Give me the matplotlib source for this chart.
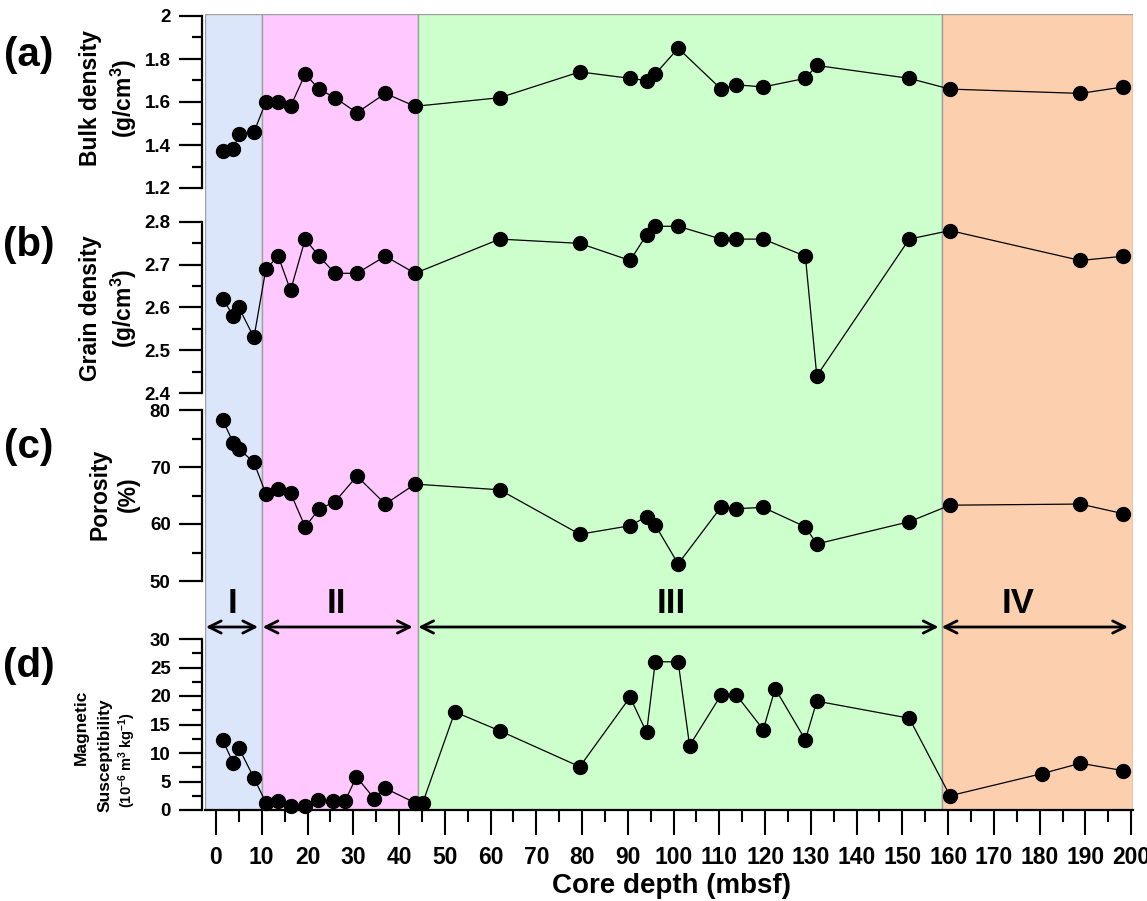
import matplotlib
matplotlib.use('Agg')
import matplotlib.pyplot as plt
from matplotlib.ticker import FuncFormatter, FixedLocator

plt.rcParams['font.family'] = ['Liberation Sans', 'DejaVu Sans']
plt.rcParams['font.weight'] = 'bold'
plt.rcParams['mathtext.fontset'] = 'custom'
plt.rcParams['mathtext.rm'] = 'Liberation Sans:bold'
plt.rcParams['mathtext.it'] = 'Liberation Sans:bold'
plt.rcParams['mathtext.bf'] = 'Liberation Sans:bold'
plt.rcParams['mathtext.default'] = 'rm'

# ---------------- data ----------------
depth_abc = [1.5, 3.8, 5.0, 8.3, 10.9, 13.6, 16.3, 19.5, 22.5, 26.0, 30.8, 37.0, 43.5,
             62.0, 79.5, 90.5, 94.1, 96.0, 101.0, 110.4, 113.7, 119.6, 128.8, 131.3,
             151.5, 160.4, 188.9, 198.3]
bulk_density = [1.37, 1.38, 1.45, 1.46, 1.60, 1.60, 1.58, 1.73, 1.66, 1.62, 1.55, 1.64, 1.58,
                1.62, 1.74, 1.71, 1.70, 1.73, 1.85, 1.66, 1.68, 1.67, 1.71, 1.77,
                1.71, 1.66, 1.64, 1.67]
grain_density = [2.62, 2.58, 2.60, 2.53, 2.69, 2.72, 2.64, 2.76, 2.72, 2.68, 2.68, 2.72, 2.68,
                 2.76, 2.75, 2.71, 2.77, 2.79, 2.79, 2.76, 2.76, 2.76, 2.72, 2.44,
                 2.76, 2.78, 2.71, 2.72]
porosity = [78.2, 74.2, 73.2, 70.8, 65.3, 66.1, 65.4, 59.5, 62.6, 63.9, 68.4, 63.5, 67.0,
            66.0, 58.2, 59.7, 61.3, 59.8, 53.0, 63.0, 62.7, 62.9, 59.5, 56.5,
            60.4, 63.3, 63.5, 61.8]
depth_ms = [1.5, 3.8, 5.0, 8.3, 10.9, 13.6, 16.3, 19.5, 22.3, 25.6, 28.2, 30.7, 34.6, 37.0,
            43.4, 45.2, 52.2, 62.0, 79.5, 90.5, 94.1, 96.0, 101.0, 103.5, 110.4, 113.7,
            119.6, 122.2, 128.8, 131.3, 151.5, 160.4, 180.6, 188.9, 198.3]
mag_sus = [12.2, 8.2, 10.9, 5.6, 1.3, 1.6, 0.7, 0.7, 1.7, 1.6, 1.6, 5.8, 2.0, 3.8,
           1.3, 1.3, 17.2, 13.9, 7.6, 19.8, 13.6, 26.0, 26.0, 11.3, 20.2, 20.2,
           14.1, 21.3, 12.3, 19.1, 16.1, 2.5, 6.4, 8.2, 6.9]

zone_names = ['I', 'II', 'III', 'IV']
zone_edges = [-2.4, 10.0, 44.2, 158.6, 200.4]
zone_colors = ['#DCE6FA', '#FFC8FF', '#CCFFCC', '#FCD0AE']
zone_label_x = [3.7, 26.4, 99.5, 175.3]
zone_arrows = [(-2.2, 9.2), (10.2, 43.0), (44.2, 157.9), (158.6, 199.3)]

panel_letters = ['(a)', '(b)', '(c)', '(d)']
xticks_major = list(range(0, 201, 10))
xticks_minor = list(range(5, 200, 10))

# ---------------- layout ----------------
W, H = 1147, 901
fig = plt.figure(figsize=(W / 100, H / 100), dpi=100)


def box(x0, y0, x1, y1):
    return [x0 / W, 1 - y1 / H, (x1 - x0) / W, (y1 - y0) / H]


XL = (zone_edges[0], zone_edges[-1])

bg = fig.add_axes(box(205, 14, 1133, 810))
bg.set_xlim(XL)
bg.set_ylim(810, 14)
bg.axis('off')
for i, c in enumerate(zone_colors):
    bg.axvspan(zone_edges[i], zone_edges[i + 1], facecolor=c, edgecolor='#A0A0A0', lw=1)
for name, lx, (a0, a1) in zip(zone_names, zone_label_x, zone_arrows):
    bg.text(lx, 603, name, ha='center', va='center', fontsize=25, fontweight='bold')
    bg.annotate('', xy=(a1, 627), xytext=(a0, 627),
                arrowprops=dict(arrowstyle='<->', lw=2, color='black',
                                mutation_scale=22, shrinkA=0, shrinkB=0))

panels = [
    (16, 188, (1.2, 2.0), 0.2, 0.1, depth_abc, bulk_density),
    (222, 393, (2.4, 2.8), 0.1, 0.05, depth_abc, grain_density),
    (410, 581, (50, 80), 10, 5, depth_abc, porosity),
    (639, 810, (0, 30), 5, 2.5, depth_ms, mag_sus),
]

fmt = FuncFormatter(lambda v, _: f'{round(v, 2):g}')
axes = []
for i, (top, bot, (lo, hi), mj, mn, xs, ys) in enumerate(panels):
    ax = fig.add_axes(box(205, top, 1133, bot))
    ax.set_facecolor('none')
    ax.set_xlim(XL)
    ax.set_ylim(lo, hi)
    for s in ['top', 'right']:
        ax.spines[s].set_visible(False)
    ax.spines['left'].set_position(('outward', 2.2))
    ax.spines['left'].set_linewidth(1.6)
    n = int(round((hi - lo) / mj))
    ax.yaxis.set_major_locator(FixedLocator([lo + k * mj for k in range(n + 1)]))
    ax.yaxis.set_minor_locator(FixedLocator([lo + mn + k * mj for k in range(n)]))
    ax.yaxis.set_major_formatter(fmt)
    ax.tick_params(axis='y', which='major', direction='out', length=16.5, width=1.6,
                   labelsize=13.5, pad=6)
    ax.tick_params(axis='y', which='minor', direction='out', length=7, width=1.6)
    for t in ax.get_yticklabels():
        t.set_fontweight('bold')
    if i < 3:
        ax.spines['bottom'].set_visible(False)
        ax.set_xticks([])
    else:
        ax.spines['bottom'].set_linewidth(1.6)
        ax.xaxis.set_major_locator(FixedLocator(xticks_major))
        ax.xaxis.set_minor_locator(FixedLocator(xticks_minor))
        ax.tick_params(axis='x', which='major', direction='out', length=18, width=1.5,
                       labelsize=16.5, pad=8)
        ax.tick_params(axis='x', which='minor', direction='out', length=8.5, width=1.5)
        for t in ax.get_xticklabels():
            t.set_fontweight('bold')
    ax.plot(xs, ys, '-o', color='black', lw=0.9, ms=10, clip_on=False, zorder=5)
    axes.append(ax)

# panel letters
for letter, y in zip(panel_letters, [55, 245, 447, 666]):
    fig.text(29 / W, 1 - y / H, letter, ha='center', va='center', fontsize=29,
             fontweight='bold')

# y labels
fig.text(109 / W, 1 - 98 / H, 'Bulk density\n(g/cm$^3$)', rotation=90, ha='center',
         va='center', multialignment='center', fontsize=16.5, fontweight='bold', linespacing=1.3)
fig.text(109 / W, 1 - 308 / H, 'Grain density\n(g/cm$^3$)', rotation=90, ha='center',
         va='center', multialignment='center', fontsize=16.5, fontweight='bold', linespacing=1.3)
fig.text(114 / W, 1 - 494 / H, 'Porosity\n(%)', rotation=90, ha='center',
         va='center', multialignment='center', fontsize=16.5, fontweight='bold', linespacing=1.3)
fig.text(81 / W, 1 - 727 / H, 'Magnetic', rotation=90, ha='center', va='center',
         fontsize=12.5, fontweight='bold')
fig.text(105 / W, 1 - 755 / H, 'Susceptibility', rotation=90, ha='center', va='center',
         fontsize=12.5, fontweight='bold')
fig.text(127 / W, 1 - 760 / H, '(10$^{-6}$ m$^3$ kg$^{-1}$)', rotation=90, ha='center',
         va='center', fontsize=10.5, fontweight='bold')

fig.text(671 / W, 1 - 886 / H, 'Core depth (mbsf)', ha='center', va='center',
         fontsize=20, fontweight='bold')

fig.savefig('out.png', dpi=100)
